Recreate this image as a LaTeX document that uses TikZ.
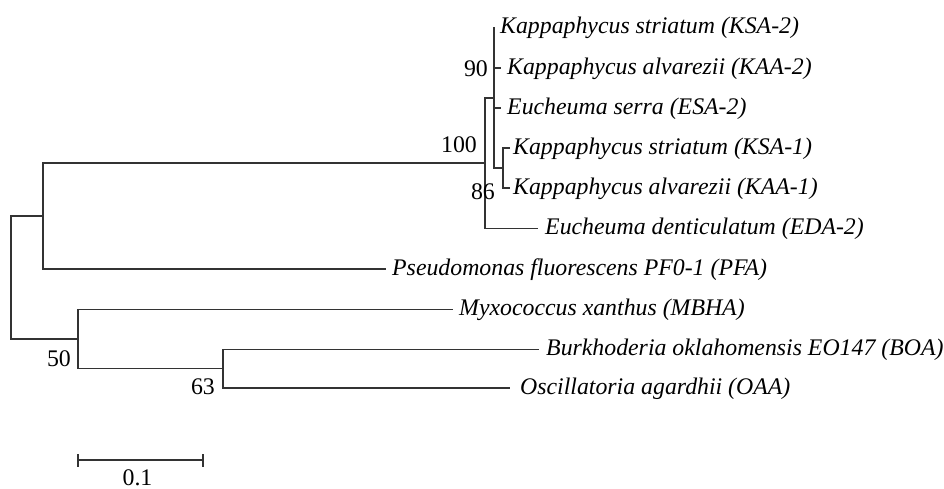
\documentclass[tikz,border=0pt]{standalone}
\usepackage{fontspec}
\setmainfont{Liberation Serif}
\begin{document}
\begin{tikzpicture}[x=1pt,y=-1pt,
  branch/.style={line width=1.6pt,draw=black!80,line cap=rect},
  leaf/.style={anchor=base west,inner sep=0pt,font=\fontsize{23.8}{28}\selectfont\itshape},
  boot/.style={anchor=base east,inner sep=0pt,font=\fontsize{23.8}{28}\selectfont},
  scalelab/.style={anchor=base,inner sep=0pt,font=\fontsize{23.8}{28}\selectfont}]
\useasboundingbox (0,0) rectangle (944,489);
% internal nodes
\coordinate (root) at (11,277.5);
\coordinate (nA) at (43,216.2);
\coordinate (n100) at (485,163.3);
\coordinate (n90) at (494,98.3);
\coordinate (n86) at (503,168);
\coordinate (nB) at (78,338.8);
\coordinate (n63) at (223,368.5);
% leaf tips
\coordinate (lKSA2) at (494,27.5);
\coordinate (lKAA2) at (500,68);
\coordinate (lESA2) at (500,108);
\coordinate (lKSA1) at (509,148);
\coordinate (lKAA1) at (509,188);
\coordinate (lEDA2) at (537,228.3);
\coordinate (lPFA) at (385,269);
\coordinate (lMBHA) at (452,309.3);
\coordinate (lBOA) at (538,349.3);
\coordinate (lOAA) at (509,388);
% branches
\draw[branch] (root) |- (nA);
\draw[branch] (root) |- (nB);
\draw[branch] (nA) |- (n100);
\draw[branch] (nA) |- (lPFA);
\draw[branch] (n100) |- (n90);
\draw[branch] (n100) |- (lEDA2);
\draw[branch] (n90) |- (lKSA2);
\draw[branch] (n90) |- (lKAA2);
\draw[branch] (n90) |- (lESA2);
\draw[branch] (n90) |- (n86);
\draw[branch] (n86) |- (lKSA1);
\draw[branch] (n86) |- (lKAA1);
\draw[branch] (nB) |- (lMBHA);
\draw[branch] (nB) |- (n63);
\draw[branch] (n63) |- (lBOA);
\draw[branch] (n63) |- (lOAA);
% leaf labels
\node[leaf] (tKSA2) at (500,34) {Kappaphycus striatum (KSA-2)};
\node[leaf] (tKAA2) at (507,74.5) {Kappaphycus alvarezii (KAA-2)};
\node[leaf] (tESA2) at (507,114.5) {Eucheuma serra (ESA-2)};
\node[leaf] (tKSA1) at (513,154.5) {Kappaphycus striatum (KSA-1)};
\node[leaf] (tKAA1) at (513,194.5) {Kappaphycus alvarezii (KAA-1)};
\node[leaf] (tEDA2) at (545,234.8) {Eucheuma denticulatum (EDA-2)};
\node[leaf] (tPFA) at (392,275.5) {Pseudomonas fluorescens PF0-1 (PFA)};
\node[leaf] (tMBHA) at (459,315.8) {Myxococcus xanthus (MBHA)};
\node[leaf] (tBOA) at (546,355.8) {Burkhoderia oklahomensis EO147 (BOA)};
\node[leaf] (tOAA) at (520,394.5) {Oscillatoria agardhii (OAA)};
% bootstrap values
\node[boot] (b90) at (488,77) {90};
\node[boot] (b100) at (477,153) {100};
\node[boot] (b86) at (495,200) {86};
\node[boot] (b50) at (71,366) {50};
\node[boot] (b63) at (215,394.5) {63};
% scale bar
\coordinate (sL) at (77.7,460);
\coordinate (sR) at (202.7,460);
\draw[branch,line cap=butt] (sL) -- (sR);
\draw[branch,line cap=butt] ([yshift=-6.5pt]sL) -- ([yshift=6.5pt]sL);
\draw[branch,line cap=butt] ([yshift=-6.5pt]sR) -- ([yshift=6.5pt]sR);
\node[scalelab] (s01) at (137.5,485) {0.1};
\end{tikzpicture}
\end{document}
